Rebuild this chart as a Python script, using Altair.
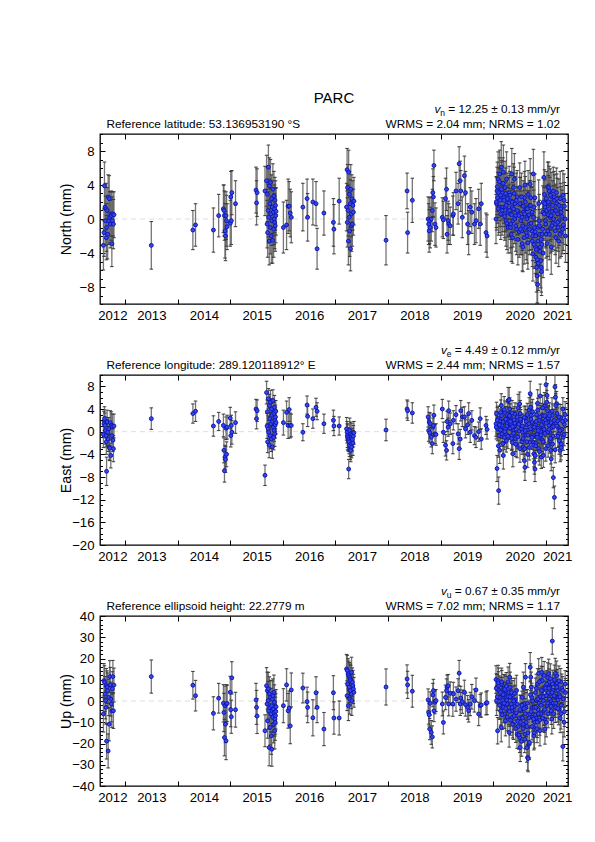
import altair as alt
import pandas as pd

# ---------------- campaign epochs (decimal years) ----------------
t_camp = [2012.59, 2012.60, 2012.61, 2012.62, 2012.63, 2012.64, 2012.645, 2012.65, 2012.66, 2012.67, 2012.68,
          2012.69, 2012.70, 2012.71, 2012.72, 2012.73, 2012.74, 2012.75, 2012.76, 2012.77, 2012.78, 2012.79,
          2013.50,
          2014.29, 2014.34,
          2014.68, 2014.78,
          2014.87, 2014.88, 2014.89, 2014.90, 2014.91, 2014.92, 2014.93, 2014.94,
          2015.00, 2015.01, 2015.02, 2015.03, 2015.10,
          2015.49, 2015.50, 2015.51, 2015.66,
          2015.69, 2015.70, 2015.705, 2015.71, 2015.72, 2015.725, 2015.73, 2015.74, 2015.745, 2015.75,
          2015.76, 2015.765, 2015.77, 2015.78, 2015.785, 2015.79, 2015.80, 2015.805, 2015.81, 2015.82,
          2015.825, 2015.83, 2015.835, 2015.84, 2015.845, 2015.85, 2015.855, 2015.86, 2015.865, 2015.87,
          2016.01, 2016.07, 2016.10, 2016.12, 2016.14, 2016.16,
          2016.38, 2016.46, 2016.47, 2016.57, 2016.63, 2016.65, 2016.78, 2016.96, 2016.97, 2017.07,
          2017.21, 2017.22, 2017.225, 2017.23, 2017.24, 2017.245, 2017.25, 2017.26, 2017.265, 2017.27,
          2017.28, 2017.285, 2017.29, 2017.30, 2017.305, 2017.31, 2017.32, 2017.33, 2017.34, 2017.35,
          2017.96,
          2018.36, 2018.37, 2018.46,
          2018.76, 2018.77, 2018.78, 2018.79, 2018.80, 2018.82, 2018.84, 2018.85, 2018.86, 2018.87, 2018.89, 2018.91,
          2019.03, 2019.05, 2019.09, 2019.11, 2019.12, 2019.14, 2019.15, 2019.18, 2019.23, 2019.24, 2019.29,
          2019.33, 2019.35, 2019.37, 2019.38,
          2019.41, 2019.45, 2019.47, 2019.51, 2019.53, 2019.56, 2019.59, 2019.64, 2019.67, 2019.72, 2019.75,
          2019.77, 2019.86, 2019.88]

n_camp = [-3.1, -1.6, 3.9, 1.4, -0.2, 1.2, -2.2, -1.0, 1.0, -1.8, 2.6, -0.2, 2.4, 0.2, -0.6, 0.6, 0.4, -2.9, -0.2, 0.6, -0.6, 0.5,
          -3.1,
          -1.3, -0.7,
          -1.3, 0.4,
          1.2, 1.0, 0.4, -1.4, -2.0, 0.4, -0.2, -0.9,
          -0.5, 2.6, -0.2, 3.1, 1.8,
          3.4, 1.9, 3.1, 3.3,
          4.5, -0.6, 2.9, -1.6, 1.0, 6.1, 0.2, -2.6, 3.9, 1.8, -1.0, 4.3, 0.6, -2.0, 2.4, -0.2, 1.4, -2.5, 3.5, 0.8,
          -1.2, 2.7, 0.0, 1.2, -0.4, 2.2, -0.8, 1.6, 0.4, 0.9,
          -1.0, -0.7, 1.5, 1.5, 0.7, 0.2,
          1.4, 2.4, 0.2, 2.0, 1.8, -3.5, 0.7, -0.4, -1.2, 2.1,
          1.4, 5.8, -0.4, 3.7, 1.0, -2.6, 5.5, 0.2, 2.9, -1.4, 1.8, -3.5, 3.5, 0.6, -0.8, 2.4, -0.6, 1.6, 0.8, 2.1,
          -2.5,
          3.3, -1.6, 2.2,
          0.0, -0.6, -1.4, -0.2, -1.0, 0.0, 1.0, 3.1, 2.6, 6.3, -0.6, -1.0,
          0.2, -0.1, 2.4, 3.5, -1.8, -0.2, -0.6, -0.8, 0.4, 0.6, 3.3, 1.8, 6.5, 4.5, 3.3,
          0.2, 5.1, 3.1, -0.6, -1.6, 1.4, 0.8, -0.6, -0.2, 1.2, -0.6, 1.8, -1.6, -2.0]

e_camp = [-0.5, 1.4, 2.3, 1.1, 0.2, -0.7, -1.8, -7.0, 1.7, -0.1, -1.3, 0.5, -2.7, -2.9, 1.6, -4.2, 1.1, -0.7, 0.9, -1.5, -3.0, 1.0,
          2.3,
          3.2, 3.6,
          1.0, 1.8,
          1.1, -3.3, -6.9, -4.5, -4.9, 0.6, -4.0, 0.8,
          2.4, -0.7, 1.1, -0.1, 1.6,
          4.0, 2.3, 3.7, -7.7,
          6.9, 1.0, 3.5, -1.8, 0.5, 5.8, -0.1, -2.4, 4.6, 2.3, -0.7, 5.2, 1.4, -1.3, 4.0, 2.9, -2.7, 1.8, 5.5, 0.8,
          -1.0, 3.2, 0.2, 4.3, -0.4, 2.0, 1.2, 2.6, 3.6, 1.6,
          1.6, 3.4, 1.1, 3.9, 1.1, 1.1,
          -0.1, 4.7, 2.7, 2.3, 4.3, 3.6, 1.4, 2.0, 1.0, 1.0,
          0.5, -0.1, -0.7, -1.0, -1.3, -1.6, -6.6, -1.8, -2.4, 0.2, -3.0, -0.4, -3.3, -2.1, -2.7, -0.6, -1.4, -2.0, -0.8, -0.2,
          0.3,
          4.0, 3.7, 3.3,
          2.6, 0.2, 1.7, -0.2, 1.4, -1.0, -2.1, 0.8, 1.1, 2.9, -0.4, -0.5,
          4.0, -0.1, -2.4, -3.3, 1.8, 0.8, 3.7, 1.4, -2.1, 2.0, 3.0, -0.4, -3.0, -1.3, 3.7,
          2.6, 2.6, 0.5, 1.2, 3.2, -0.1, 2.0, -0.7, -1.0, 0.0, 2.3, -1.3, 1.1, 0.4]

u_camp = [-6.1, 9.6, 8.8, 3.3, 0.2, -3.0, 7.2, -18.9, 6.5, 4.9, -23.5, 1.7, -10.9, 11.5, 7.6, 0.9, -1.4, -4.6, 5.7, 11.5, -4.6, 7.5,
          11.5,
          7.4, 2.5,
          -5.8, 1.3,
          -1.1, -5.4, -17.2, -2.2, -10.9, -18.7, -1.4, -1.1,
          4.1, -4.1, -7.4, 10.9, -4.1,
          0.5, -3.0, -7.1, -14.0,
          7.2, -1.4, 4.9, -9.3, 0.2, 5.7, -4.6, -21.9, 3.3, -3.0, -12.4, 1.7, -6.1, -16.4, -2.2, -22.7, 0.9, -7.7,
          2.5, -3.8, -10.9, 4.1, -5.4, -0.6, -14.0, -8.5, -10.1, -6.9, -4.9, -2.7,
          -2.2, 7.6, -4.6, -3.3, -11.7, 5.2,
          6.1, -0.3, -3.0, -7.9, 3.9, -3.0, -13.2, 3.9, -8.0, -8.0,
          15.1, 2.5, 14.3, 8.0, 12.8, -2.2, 12.0, 6.5, 11.2, 0.9, 10.4, 4.9, 9.6, 3.3, 13.5, 0.2, 8.8, 7.2, 5.7, 4.1,
          6.6,
          10.4, 7.6, 4.6,
          0.5, -5.4, -6.5, -13.2, -1.1, -14.8, -16.9, 2.8, 4.9, -4.6, -0.6, 0.2,
          -1.4, -10.1, 1.7, 4.9, 6.5, 7.2, -1.4, 3.6, -1.4, 3.3, 0.9, 4.9, 13.1, -1.4, 1.4,
          -0.3, 4.1, -1.7, -3.0, -4.6, -1.4, 2.0, 0.2, 5.2, -6.1, -2.2, -1.9, -1.1, -0.8]

sn_camp = [2.9, 2.8, 2.8, 2.7, 2.9, 3.0, 2.6, 2.8, 2.7, 2.9, 2.6, 2.8, 2.7, 3.0, 2.8, 2.6, 2.9, 2.7, 2.8, 2.6, 2.9, 2.7,
           2.8,
           2.3, 2.5,
           2.6, 2.5,
           2.8, 3.0, 2.9, 3.2, 2.9, 2.8, 3.0, 2.7,
           2.7, 3.0, 2.8, 2.6, 2.7,
           2.7, 2.6, 2.8, 2.9,
           3.0, 2.8, 3.2, 2.9, 3.1, 2.6, 3.0, 2.8, 3.3, 2.9, 3.1, 2.7, 3.0, 3.2, 2.8, 2.9, 3.1, 2.7, 3.0, 2.8,
           3.3, 2.9, 3.0, 2.8, 3.1, 2.7, 3.0, 2.9, 3.2, 2.8,
           3.0, 2.9, 3.2, 2.9, 2.8, 3.0,
           2.8, 2.3, 2.8, 2.7, 2.6, 2.4, 2.6, 2.8, 2.9, 2.7,
           2.8, 2.5, 2.9, 2.7, 3.0, 2.8, 2.6, 2.9, 2.7, 3.0, 2.8, 2.6, 2.9, 2.7, 3.0, 2.8, 2.6, 2.9, 2.7, 2.8,
           2.9,
           2.1, 2.4, 2.6,
           2.6, 2.4, 2.5, 2.7, 2.4, 2.6, 2.5, 2.8, 2.4, 1.8, 2.5, 2.3,
           2.3, 2.2, 2.4, 2.5, 2.2, 2.3, 2.4, 2.2, 2.3, 2.5, 2.2, 2.4, 2.0, 2.3, 2.4,
           2.4, 2.3, 2.5, 2.4, 2.6, 2.3, 2.5, 2.4, 2.6, 2.3, 2.5, 2.4, 2.3, 2.5]

se_camp = [2.3, 2.2, 2.1, 2.2, 2.4, 2.0, 2.2, 2.5, 2.1, 2.3, 2.2, 2.0, 2.3, 2.2, 2.1, 2.2, 2.4, 2.1, 2.2, 2.0, 2.3, 2.1,
           1.9,
           1.7, 1.8,
           1.8, 1.6,
           2.0, 2.2, 2.0, 2.1, 2.3, 2.0, 2.2, 2.1,
           1.9, 2.0, 1.8, 2.1, 1.9,
           1.7, 1.8, 1.9, 1.8,
           2.0, 2.2, 2.1, 1.9, 2.3, 1.8, 2.1, 2.2, 2.0, 1.9, 2.3, 2.1, 2.0, 2.2, 1.8, 2.1, 2.0, 2.3, 1.9, 2.1,
           2.2, 2.0, 1.9, 2.1, 2.2, 2.0, 2.3, 2.1, 1.9, 2.0,
           2.2, 2.0, 2.3, 2.1, 2.2, 2.0,
           1.5, 1.6, 1.8, 1.7, 1.6, 1.5, 1.7, 1.8, 1.7, 1.6,
           2.0, 1.9, 2.1, 2.2, 2.0, 1.9, 1.7, 2.1, 2.0, 2.2, 1.9, 2.1, 2.0, 2.2, 1.9, 2.1, 2.0, 2.2, 1.9, 2.0,
           1.9,
           1.6, 1.7, 1.8,
           1.8, 1.9, 1.7, 1.8, 1.9, 1.7, 1.8, 1.6, 1.9, 1.8, 1.7, 1.9,
           1.7, 1.8, 1.9, 1.7, 1.8, 1.6, 1.7, 1.9, 1.8, 1.7, 1.6, 1.8, 1.9, 1.7, 1.8,
           1.7, 1.8, 1.6, 1.7, 1.9, 1.8, 1.7, 1.6, 1.8, 1.7, 1.9, 1.8, 1.6, 1.7]

su_camp = [8.5, 8.0, 7.8, 8.2, 8.6, 7.9, 8.1, 8.4, 7.7, 8.3, 8.0, 8.6, 7.9, 7.5, 8.2, 8.0, 8.4, 7.8, 8.1, 7.6, 8.3, 8.0,
           7.8,
           6.5, 7.2,
           7.8, 7.0,
           8.8, 9.0, 8.6, 9.2, 8.7, 8.9, 9.1, 8.5,
           7.5, 8.0, 7.8, 7.6, 8.2,
           7.8, 8.0, 8.2, 7.5,
           8.5, 8.0, 8.7, 8.2, 8.9, 7.8, 8.4, 8.6, 8.1, 8.8, 8.3, 8.0, 8.5, 8.7, 8.2, 8.0, 8.6, 8.4, 7.9, 8.3,
           8.8, 8.1, 8.5, 8.2, 8.6, 8.0, 8.4, 8.7, 8.3, 8.1,
           8.0, 7.6, 8.2, 8.0, 8.4, 8.0,
           7.0, 6.8, 7.2, 8.5, 7.5, 7.2, 7.8, 8.0, 7.6, 8.0,
           6.8, 7.0, 7.2, 6.9, 7.1, 7.0, 6.8, 7.3, 6.9, 7.1, 7.0, 6.8, 7.2, 6.9, 7.1, 7.0, 6.8, 7.2, 6.9, 7.0,
           8.5,
           6.6, 6.4, 7.5,
           5.2, 5.5, 5.3, 5.0, 5.4, 5.6, 5.2, 5.5, 5.3, 5.1, 5.4, 5.2,
           5.6, 5.4, 5.8, 5.5, 5.7, 5.3, 5.6, 5.4, 5.8, 5.5, 5.7, 5.6, 6.0, 5.4, 5.5,
           5.5, 5.7, 5.4, 5.6, 5.3, 5.5, 5.8, 5.4, 5.6, 5.5, 5.3, 5.7, 5.4, 5.6]

# ---------------- continuous epochs 2020-2021 (part 1) ----------------
t_cont = [2020.05, 2020.06, 2020.07, 2020.08, 2020.09, 2020.10, 2020.11, 2020.12, 2020.13, 2020.14,
          2020.15, 2020.16, 2020.17, 2020.18, 2020.19, 2020.20, 2020.21, 2020.22, 2020.23, 2020.24, 2020.25, 2020.26, 2020.28, 2020.29,
          2020.30, 2020.31, 2020.32, 2020.33, 2020.34, 2020.35, 2020.36, 2020.37, 2020.38, 2020.40, 2020.41, 2020.42, 2020.44, 2020.45, 2020.47, 2020.49,
          2020.50, 2020.51, 2020.52, 2020.54, 2020.55, 2020.56, 2020.57, 2020.59, 2020.60, 2020.61, 2020.62, 2020.64, 2020.65, 2020.66, 2020.68, 2020.69,
          2020.70, 2020.71, 2020.72, 2020.73, 2020.74, 2020.75, 2020.76, 2020.77, 2020.78, 2020.79,
          2020.80, 2020.81, 2020.82, 2020.83, 2020.84, 2020.85, 2020.86, 2020.87, 2020.88, 2020.89, 2020.90, 2020.91,
          2020.92, 2020.93, 2020.94, 2020.95, 2020.96, 2020.97, 2020.98, 2020.99, 2021.00, 2021.02, 2021.03, 2021.04,
          2021.05, 2021.06, 2021.07, 2021.08, 2021.09, 2021.10, 2021.11, 2021.12, 2021.13, 2021.14, 2021.16, 2021.17, 2021.18, 2021.19,
          2021.20, 2021.21, 2021.22, 2021.23, 2021.24, 2021.25, 2021.27, 2021.28, 2021.29, 2021.30, 2021.32, 2021.33, 2021.35, 2021.37]

n_cont = [0.0, 1.8, 3.3, 2.5, 4.7, 3.1, 1.4, 5.3, 2.2, 0.6,
          6.1, 4.1, 3.1, 1.4, 5.5, 2.5, 0.6, 3.7, 1.4, -0.2, 4.7, 2.0, -1.0, 1.0,
          3.1, 2.2, 0.6, -0.6, -1.8, 5.3, 1.4, -0.2, 3.7, 4.7, 1.8, 0.4, -1.2, 2.6, 0.9, -1.5,
          3.7, 1.8, -0.2, -1.4, -2.9, -3.3, 0.8, 2.5, 4.0, -1.0, 1.2, -2.0, 0.3, 2.9, -0.6, 1.6,
          4.1, 2.5, 0.6, -1.4, -2.6, -4.1, 5.3, 1.4, -1.0, 2.5,
          -3.3, -4.5, -5.7, -6.7, -7.7, -1.0, 1.8, -0.2, -1.8, -3.3, -4.9, -5.7,
          -3.0, -1.8, 0.8, 2.0, 4.9, 2.9, 1.4, -0.2, -1.8, -2.9, 3.8, 0.5,
          3.7, 3.3, 1.8, 0.2, -1.0, -3.3, 2.6, 0.9, -0.5, 3.3, 2.2, 1.0, -0.6, -2.2,
          3.1, 1.8, 0.6, -1.0, -2.6, -0.2, 2.4, 1.2, -1.6, 0.3, 2.8, -0.7, 1.5, -2.0]

e_cont = [1.4, 3.2, -6.5, 0.5, 2.3, -10.4, -0.7, -3.3, 1.9, 3.4,
          4.6, 1.1, 0.2, -2.1, -4.2, 1.9, -1.0, 3.4, 0.5, 2.3, -0.5, 1.5, 5.5, 0.8,
          5.6, 4.0, 2.6, 1.4, 0.5, -0.7, -1.9, -3.9, 2.0, 0.9, 3.1, -1.2, 1.6, -2.4, 4.2, 0.1,
          4.9, 3.2, 1.9, 0.8, -0.1, -1.3, -2.7, -5.1, -6.3, 2.4, -0.6, 1.2, -4.0, 0.3, 3.8, -1.9,
          6.7, 4.3, 2.9, 1.7, 0.5, -0.7, -1.9, -3.9, -5.4, -6.6,
          1.2, -2.0, 3.0, -0.5, 5.0, 0.6, -3.0, 2.0, -1.0, 6.3, 0.0, -4.5,
          2.8, -1.5, 0.9, -4.2, 1.8, 4.5, -0.3, 2.0, 8.3, 6.4, 3.7, -2.5,
          2.3, 1.1, -0.1, -1.6, -3.3, -4.8, 0.7, 2.9, -0.8, -8.1, -11.6, 7.9, 6.1, 1.5,
          4.9, 3.2, 1.9, 0.8, -0.4, -1.6, -3.3, 2.5, -2.2, 0.4, 4.0, -1.0, 1.3, 2.0]

u_cont = [10.1, 0.2, 5.7, -14.0, 9.6, 7.2, 4.9, 1.7, -1.4, -4.6,
          -12.4, 8.0, 4.1, 0.2, -3.0, 6.0, -6.1, 2.5, -9.3, 4.9, 1.7, -1.4, 9.0, -4.6,
          -14.8, 11.2, 6.5, 1.7, -1.4, -4.6, -7.7, 3.0, -10.9, -2.5, 0.5, -6.0, 5.0, -15.6, -12.0, -8.0,
          -17.2, -21.9, -4.6, -7.7, 1.7, -10.9, 6.5, -1.4, -15.6, 11.2, -3.0, -12.0, -26.6, -27.1, -20.3, -6.1,
          15.9, 11.2, 6.5, 1.7, -3.0, -7.7, -12.4, -16.4, -15.0, -10.0,
          4.0, -8.0, 0.5, -13.0, 8.0, -4.0, 13.0, -1.0, -9.0, 2.0, -6.0, 10.0,
          13.5, 9.6, 4.9, 0.2, -4.6, -8.5, -13.2, 7.0, 2.5, -2.0, 11.0, -6.0,
          12.8, 8.8, 6.5, 3.3, 0.2, -4.6, -8.5, 28.2, 5.0, -1.0, 10.0, 2.0, -3.0, 7.5,
          12.0, 8.5, 5.0, 0.5, -4.0, 3.0, -8.0, 9.0, -2.0, 6.0, -21.4, 1.0, -5.0, 4.0]

sn_cont = [2.9, 3.1, 2.8, 3.0, 3.2, 2.9, 3.0, 2.8, 3.1, 3.0,
           3.0, 2.8, 3.1, 2.9, 3.2, 3.0, 2.8, 3.1, 2.9, 3.0, 3.2, 2.8, 3.0, 2.9,
           3.1, 2.9, 3.0, 2.8, 3.2, 3.0, 2.9, 3.1, 2.8, 3.0, 3.2, 2.9, 3.0, 3.1, 2.8, 3.0,
           2.9, 3.1, 3.0, 2.8, 3.2, 2.9, 3.0, 3.1, 2.8, 3.0, 2.9, 3.2, 3.0, 2.8, 3.1, 2.9,
           3.0, 2.9, 3.1, 2.8, 3.0, 3.2, 2.9, 3.0, 3.1, 2.8,
           3.1, 3.0, 2.9, 3.2, 2.2, 3.0, 2.8, 3.1, 2.9, 3.0, 3.2, 2.9,
           2.9, 3.0, 3.1, 2.8, 3.0, 2.9, 3.2, 3.0, 2.8, 3.1, 2.9, 3.0,
           3.0, 2.9, 3.1, 2.8, 3.0, 3.2, 2.9, 3.0, 3.1, 2.8, 3.0, 2.9, 3.1, 3.0,
           2.9, 3.0, 3.1, 2.8, 3.0, 2.9, 3.2, 3.0, 2.8, 3.1, 2.9, 3.0, 2.8, 3.1]

se_cont = [2.2, 2.0, 2.3, 2.1, 2.2, 2.4, 2.0, 2.3, 2.1, 2.2,
           2.1, 2.3, 2.0, 2.2, 2.4, 2.1, 2.2, 2.0, 2.3, 2.1, 2.2, 2.0, 2.3, 2.1,
           2.2, 2.0, 2.3, 2.1, 2.2, 2.4, 2.0, 2.3, 2.1, 2.2, 2.0, 2.3, 2.1, 2.2, 2.4, 2.1,
           2.1, 2.3, 2.0, 2.2, 2.4, 2.1, 2.2, 2.0, 2.3, 2.1, 2.2, 2.0, 2.3, 2.1, 2.2, 2.4,
           2.2, 2.0, 2.3, 2.1, 2.2, 2.4, 2.0, 2.3, 2.1, 2.2,
           2.1, 2.3, 2.0, 2.2, 2.4, 2.1, 2.2, 2.0, 2.3, 2.1, 2.2, 2.0,
           2.2, 2.0, 2.3, 2.1, 2.2, 2.4, 2.0, 2.3, 1.9, 2.1, 2.2, 2.0,
           2.1, 2.3, 2.0, 2.2, 2.4, 2.1, 2.2, 2.0, 2.3, 1.8, 2.0, 2.1, 2.2, 2.0,
           2.2, 2.0, 2.3, 2.1, 2.2, 2.4, 2.0, 2.3, 2.1, 2.2, 2.0, 2.3, 2.1, 2.2]

su_cont = [6.5, 7.0, 6.8, 6.2, 7.2, 6.6, 6.9, 6.4, 7.1, 6.7,
           6.8, 6.4, 7.0, 6.6, 7.2, 6.5, 6.9, 6.3, 7.1, 6.7, 6.8, 6.4, 7.0, 6.6,
           6.9, 6.5, 7.1, 6.7, 6.8, 6.4, 7.0, 6.6, 7.2, 6.5, 6.9, 6.3, 7.1, 6.7, 6.8, 6.4,
           7.0, 6.6, 7.2, 6.5, 6.9, 6.3, 7.1, 6.7, 6.8, 6.4, 7.0, 6.6, 6.0, 6.2, 7.2, 6.5,
           6.9, 6.3, 7.1, 6.7, 6.8, 6.4, 7.0, 6.6, 7.2, 6.5,
           6.8, 6.4, 7.0, 6.6, 7.2, 6.5, 6.9, 6.3, 7.1, 6.7, 6.8, 6.4,
           7.0, 6.6, 7.2, 6.5, 6.9, 6.3, 7.1, 6.7, 6.8, 6.4, 7.0, 6.6,
           6.9, 6.3, 7.1, 6.7, 6.8, 6.4, 7.0, 6.2, 7.2, 6.5, 6.9, 6.3, 7.1, 6.7,
           6.8, 6.4, 7.0, 6.6, 7.2, 6.5, 6.9, 6.3, 7.1, 6.7, 6.8, 6.4, 7.0, 6.6]

# ---------------- continuous epochs 2020-2021 (part 2, interleaved days) ----------------
t_cont2 = [2020.055, 2020.075, 2020.095, 2020.115, 2020.135, 2020.155, 2020.165, 2020.185, 2020.205, 2020.215,
           2020.235, 2020.245, 2020.255, 2020.265, 2020.275, 2020.295,
           2020.305, 2020.315, 2020.325, 2020.345, 2020.355, 2020.365, 2020.385, 2020.395, 2020.405, 2020.425,
           2020.435, 2020.455, 2020.465, 2020.485, 2020.505, 2020.515, 2020.535, 2020.545,
           2020.555, 2020.565, 2020.585, 2020.595, 2020.605, 2020.625, 2020.635, 2020.645, 2020.655, 2020.675,
           2020.685, 2020.705, 2020.715, 2020.735, 2020.745, 2020.765, 2020.775, 2020.795,
           2020.805, 2020.815, 2020.835, 2020.845, 2020.855, 2020.875, 2020.885, 2020.905, 2020.915, 2020.935,
           2020.945, 2020.965, 2020.975, 2020.995, 2021.005, 2021.015, 2021.035, 2021.045,
           2021.055, 2021.065, 2021.085, 2021.095, 2021.115, 2021.125, 2021.145, 2021.155, 2021.175, 2021.185,
           2021.205, 2021.225, 2021.245, 2021.265, 2021.285, 2021.315, 2021.345, 2021.365]

n_cont2 = [2.0, 3.8, 1.2, 4.4, 2.8, 3.5, 1.0, 4.2, 2.2, 0.3, 3.0, 1.6, -0.5, 2.4, 0.8, 1.9,
           1.0, 2.8, -1.0, 0.5, 2.0, -2.2, 1.2, 3.0, 0.0, -0.8, 2.2, 1.0, -2.4, 0.4, 1.8, -1.2, 2.6, 0.2,
           -0.8, 1.5, -2.2, 0.6, 2.0, -1.6, 0.0, 1.2, -2.8, 0.5, -1.2, 1.6, -0.5, 0.8, -2.0, 0.2, -3.0, -1.5,
           -2.0, -3.6, -4.8, -2.6, -5.2, -0.8, -3.8, -2.4, -6.2, -1.2, -4.0, 0.6, 1.8, -0.6, 2.4, 1.0, -1.4, 2.0,
           1.2, -1.8, 2.8, 0.4, -0.8, 1.6, 0.0, 2.6, -1.4, 1.0, 2.4, -0.4, 1.6, -1.8, 0.8, -1.2, 2.2, 0.0]

e_cont2 = [0.8, 2.0, -2.5, 1.2, 0.3, 2.8, -0.4, 1.7, 3.9, 0.0, 2.2, -1.6, 1.0, 3.0, -0.8, 1.9,
           2.8, 0.6, 1.8, -1.2, 3.3, 0.9, -0.3, 2.1, 1.5, -2.2, 0.4, 2.6, -0.9, 1.3, -3.0, 2.2, 0.5, -1.8,
           1.0, -1.2, 2.5, -3.0, 0.2, 1.8, -1.8, 3.0, -0.6, 1.4, -2.8, 0.5, 2.2, -1.0, 3.5, -2.4, 0.8, -4.2,
           -2.5, 1.8, -1.0, 3.8, 0.2, -3.5, 2.6, -0.6, 1.2, 4.2, -1.8, 0.4, 2.8, -3.0, 1.5, 5.2, 0.0, 2.4,
           0.4, 2.8, -1.2, 1.6, 3.6, -2.2, 0.9, 2.0, -3.2, 4.6, 1.0, -0.8, 2.6, 0.2, -2.8, 1.8, -0.5, 3.0]

u_cont2 = [6.0, 2.0, 8.5, -2.0, 4.0, 9.0, -6.5, 3.0, -1.0, 5.5, -3.5, 7.0, 0.5, -7.5, 2.0, 4.0,
           -5.0, 2.0, -9.0, 4.0, -3.0, -11.0, 0.0, -7.0, 3.5, -13.0, -5.5, -1.5, -9.5, -16.0, -4.0, -10.0, -19.0, -2.0,
           -8.0, -13.0, -3.5, -18.0, -6.0, -10.0, -22.0, -1.0, -15.0, -8.0, -19.5, 3.0, -5.0, -12.0, 0.0, -8.5, -3.0, -6.5,
           -3.0, 6.0, -10.0, 1.0, -6.0, 9.0, -14.0, -2.0, 5.0, -8.0, 2.0, 12.0, -4.0, 6.0, -10.0, 8.0, -1.0, 4.0,
           6.0, 1.0, 10.5, -2.5, 4.0, 8.0, -6.0, 2.5, 13.0, -1.0, 6.5, -3.5, 9.5, 2.0, -6.0, 5.0, -10.0, 8.0]

sn_cont2 = [3.0, 2.9, 3.1, 2.8, 3.0, 3.2, 2.9, 3.0, 3.1, 2.8, 3.0, 2.9, 3.1, 3.0, 2.9, 3.0,
            3.1, 2.8, 3.0, 2.9, 3.2, 3.0, 2.8, 3.1, 2.9, 3.0, 3.2, 2.8, 3.0, 2.9, 3.1, 3.0, 2.8, 3.1,
            2.9, 3.0, 3.1, 2.8, 3.0, 3.2, 2.9, 3.0, 3.1, 2.8, 3.0, 2.9, 3.1, 3.0, 2.9, 3.2, 2.8, 3.0,
            3.1, 2.9, 3.0, 2.8, 3.2, 3.0, 2.9, 3.1, 2.8, 3.0, 2.9, 3.1, 3.0, 2.8, 3.2, 2.9, 3.0, 3.1,
            2.9, 3.0, 3.1, 2.8, 3.0, 2.9, 3.2, 3.0, 2.8, 3.1, 2.9, 3.0, 3.1, 2.8, 3.0, 2.9, 3.1, 3.0]

se_cont2 = [2.1, 2.3, 2.0, 2.2, 2.4, 2.1, 2.2, 2.0, 2.3, 2.1, 2.2, 2.0, 2.3, 2.1, 2.2, 2.4,
            2.2, 2.0, 2.3, 2.1, 2.2, 2.4, 2.0, 2.3, 2.1, 2.2, 2.0, 2.3, 2.1, 2.2, 2.4, 2.1, 2.0, 2.2,
            2.1, 2.3, 2.0, 2.2, 2.4, 2.1, 2.2, 2.0, 2.3, 2.1, 2.2, 2.0, 2.3, 2.1, 2.2, 2.4, 2.0, 2.3,
            2.2, 2.0, 2.3, 2.1, 2.2, 2.4, 2.0, 2.3, 2.1, 2.2, 2.0, 2.3, 2.1, 2.2, 2.4, 2.1, 2.0, 2.2,
            2.1, 2.3, 2.0, 2.2, 2.4, 2.1, 2.2, 2.0, 2.3, 2.1, 2.2, 2.0, 2.3, 2.1, 2.2, 2.4, 2.0, 2.3]

su_cont2 = [6.8, 6.4, 7.0, 6.6, 7.2, 6.5, 6.9, 6.3, 7.1, 6.7, 6.8, 6.4, 7.0, 6.6, 7.2, 6.5,
            6.9, 6.3, 7.1, 6.7, 6.8, 6.4, 7.0, 6.6, 7.2, 6.5, 6.9, 6.3, 7.1, 6.7, 6.8, 6.4, 7.0, 6.6,
            7.2, 6.5, 6.9, 6.3, 7.1, 6.7, 6.8, 6.4, 7.0, 6.6, 7.2, 6.5, 6.9, 6.3, 7.1, 6.7, 6.8, 6.4,
            7.0, 6.6, 7.2, 6.5, 6.9, 6.3, 7.1, 6.7, 6.8, 6.4, 7.0, 6.6, 7.2, 6.5, 6.9, 6.3, 7.1, 6.7,
            6.8, 6.4, 7.0, 6.6, 7.2, 6.5, 6.9, 6.3, 7.1, 6.7, 6.8, 6.4, 7.0, 6.6, 7.2, 6.5, 6.9, 6.3]

# ---------------- text ----------------
station = "PARC"
y_titles = ["North (mm)", "East (mm)", "Up (mm)"]
ref_texts = ["Reference latitude: 53.136953190 °S",
             "Reference longitude: 289.120118912° E",
             "Reference ellipsoid height: 22.2779 m"]
rate_subs = ["n", "e", "u"]
rate_texts = [" = 12.25 ± 0.13 mm/yr", " = 4.49 ± 0.12 mm/yr", " = 0.67 ± 0.35 mm/yr"]
rate_widths = [115, 108.5, 108.5]
rms_texts = ["WRMS = 2.04 mm; NRMS = 1.02",
             "WRMS = 2.44 mm; NRMS = 1.57",
             "WRMS = 7.02 mm; NRMS = 1.17"]

# ---------------- axes ----------------
year_ticks = [2013, 2014, 2015, 2016, 2017, 2018, 2019, 2020, 2021]
year_label_pos = [2012.76, 2013.5, 2014.5, 2015.5, 2016.5, 2017.5, 2018.5, 2019.5, 2020.5, 2021.21]
X_DOMAIN = [2012.525, 2021.418]
y_domains = [[-10, 10], [-20, 10], [-40, 40]]
y_major = [[-8, -4, 0, 4, 8], [-20, -16, -12, -8, -4, 0, 4, 8], [-40, -30, -20, -10, 0, 10, 20, 30, 40]]
y_minor = [list(range(-10, 11)), list(range(-20, 11)), list(range(-40, 41, 2))]
y_major_step = [4, 4, 10]

df = pd.DataFrame({
    "t": t_camp + t_cont + t_cont2,
    "north": n_camp + n_cont + n_cont2,
    "east": e_camp + e_cont + e_cont2,
    "up": u_camp + u_cont + u_cont2,
    "sn": sn_camp + sn_cont + sn_cont2,
    "se": se_camp + se_cont + se_cont2,
    "su": su_camp + su_cont + su_cont2,
})

W, H = 468, 170
FONT = "Liberation Sans"
BAR = "#666666"
CAP = "#333333"
one = pd.DataFrame({"k": [0]})


def txt(text, x, y, size, align="left", style="normal"):
    return alt.Chart(one).mark_text(
        font=FONT, fontSize=size, align=align, baseline="alphabetic",
        color="black", fontStyle=style
    ).encode(x=alt.value(x), y=alt.value(y), text=alt.value(text))


def panel(i, col, scol):
    xs = alt.Scale(domain=X_DOMAIN, nice=False, zero=False)
    ys = alt.Scale(domain=y_domains[i], nice=False, zero=False)
    step = y_major_step[i]
    tsize = {"condition": {"test": f"datum.value % {step} === 0", "value": 5}, "value": 2.5}

    ax_x_lab = alt.Axis(orient="bottom", values=year_label_pos, labelExpr="'' + floor(datum.value)",
                        ticks=False, domain=False, grid=False, title=None, labelFontSize=13.2,
                        labelPadding=5, labelFlush=False, labelOverlap=False, labelBound=False,
                        labelColor="black")
    ax_x_bot = alt.Axis(orient="top", offset=-H, values=year_ticks, labels=False, ticks=True,
                        tickSize=5, tickColor="black", tickWidth=1, domain=False, grid=False, title=None)
    ax_x_top = alt.Axis(orient="bottom", offset=-H, values=year_ticks, labels=False, ticks=True,
                        tickSize=5, tickColor="black", tickWidth=1, domain=False, grid=False, title=None)
    ax_y_lab = alt.Axis(orient="left", values=y_major[i], ticks=False, domain=False, grid=False,
                        title=y_titles[i], titleFontSize=14.2, titleFontWeight="normal", titleColor="black",
                        titleX=-27, titleBaseline="bottom", labelFontSize=13.2, labelPadding=6,
                        labelColor="black")
    ax_y_l = alt.Axis(orient="right", offset=-W, values=y_minor[i], labels=False, ticks=True,
                      tickSize=tsize, tickColor="black", tickWidth=1, domain=False, grid=False, title=None)
    ax_y_r = alt.Axis(orient="left", offset=-W, values=y_minor[i], labels=False, ticks=True,
                      tickSize=tsize, tickColor="black", tickWidth=1, domain=False, grid=False, title=None)

    base = alt.Chart(df).transform_calculate(
        lo=f"datum.{col} - datum.{scol}", hi=f"datum.{col} + datum.{scol}")

    zero = alt.Chart(one).mark_rule(color="#d6d6d6", strokeDash=[5, 4], strokeWidth=0.8).encode(
        y=alt.Y("k:Q", scale=ys, axis=None))
    rules = base.mark_rule(color=BAR, strokeWidth=1.3, opacity=0.9, clip=True).encode(
        x=alt.X("t:Q", scale=xs, axis=ax_x_lab),
        y=alt.Y("lo:Q", scale=ys, axis=ax_y_lab),
        y2="hi:Q")
    caps_lo = base.mark_tick(orient="horizontal", size=3.5, thickness=1.1, color=CAP, opacity=0.9,
                             clip=True).encode(
        x=alt.X("t:Q", scale=xs, axis=ax_x_bot),
        y=alt.Y("lo:Q", scale=ys, axis=ax_y_l))
    caps_hi = base.mark_tick(orient="horizontal", size=3.5, thickness=1.1, color=CAP, opacity=0.9,
                             clip=True).encode(
        x=alt.X("t:Q", scale=xs, axis=ax_x_top),
        y=alt.Y("hi:Q", scale=ys, axis=ax_y_r))
    pts = base.mark_circle(size=15, fill="#3848e4", stroke="#0c16b8", strokeWidth=1.0, opacity=1,
                           clip=True).encode(
        x=alt.X("t:Q", scale=xs, axis=None),
        y=alt.Y(f"{col}:Q", scale=ys, axis=None))

    right = W - 8
    sub_x = right - rate_widths[i]
    layers = [zero, rules, caps_lo, caps_hi, pts,
              txt(ref_texts[i], 6.5, -6.5, 11.8),
              txt(rms_texts[i], right, -6.5, 11.8, align="right"),
              txt(rate_texts[i], right, -21, 11.8, align="right"),
              txt(rate_subs[i], sub_x, -18.5, 8.5, align="right"),
              txt("v", sub_x - 4.6, -21, 11.8, align="right", style="italic")]
    if i == 0:
        layers.append(txt(station, W / 2, -31, 15, align="center"))
    return alt.layer(*layers).resolve_axis(x="independent", y="independent").properties(width=W, height=H)


chart = alt.vconcat(
    panel(0, "north", "sn"),
    panel(1, "east", "se"),
    panel(2, "up", "su"),
    spacing=71, bounds="flush",
).properties(
    padding={"left": 50, "top": 82, "right": 10, "bottom": 10}
).configure_view(
    stroke="black", strokeWidth=1.3
).configure_axis(
    labelFont=FONT, titleFont=FONT
).configure_text(font=FONT)

chart.save("out.html", embed_options={"renderer": "svg", "actions": False})
